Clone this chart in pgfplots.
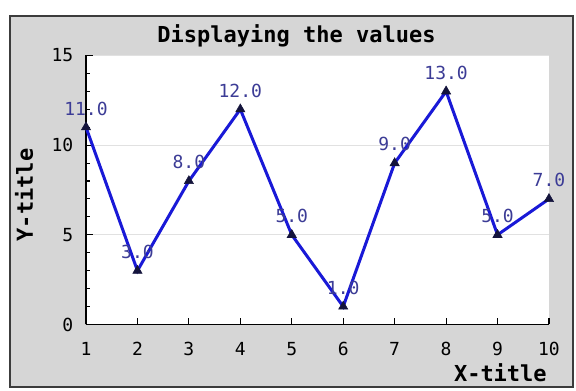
\documentclass[border=0pt]{standalone}
\usepackage{fontspec}
\setmonofont{DejaVu Sans Mono}
\usepackage{pgfplots}
\pgfplotsset{compat=1.18}

\definecolor{framegray}{RGB}{214,214,214}
\definecolor{frameedge}{RGB}{60,60,60}
\definecolor{gridgray}{RGB}{225,225,225}
\definecolor{lineblue}{RGB}{25,25,215}
\definecolor{labelnavy}{RGB}{60,60,150}
\definecolor{marknavy}{RGB}{20,20,60}

\newcommand{\tickfont}{\ttfamily\fontsize{13.5}{14}\selectfont}
\newcommand{\headfont}{\ttfamily\bfseries\fontsize{16.5}{18}\selectfont}
% pixel position of the reference -> picture coordinates (axis SW at origin)
\newcommand*{\px}[2]{({(#1-86)*0.75pt},{(324.5-#2)*0.75pt})}

\begin{document}
\begin{tikzpicture}
\fill[white] \px{0}{0} rectangle \px{576}{391};
\draw[frameedge, line width=1.5pt, fill=framegray] \px{10}{16} rectangle \px{573}{387};

\begin{axis}[
  scale only axis,
  width=347.25pt, height=201.75pt,
  xmin=1, xmax=10, ymin=0, ymax=15,
  axis lines=left,
  axis line style={-, black, line width=1pt},
  axis background/.style={fill=white},
  xtick={1,2,3,4,5,6,7,8,9,10},
  ytick={0,5,10,15},
  minor y tick num=4,
  tick align=inside,
  major tick length=5pt,
  minor tick length=3pt,
  tick style={black, line width=0.8pt},
  ymajorgrids,
  grid style={gridgray, line width=0.8pt},
  /pgf/number format/assume math mode=true,
  yticklabel style={font=\tickfont, xshift=-6pt},
  xticklabel style={font=\tickfont, yshift=-10pt},
  clip=false,
  nodes near coords={\pgfmathprintnumber[fixed,fixed zerofill,precision=1]{\pgfplotspointmeta}},
  every node near coord/.append style={font=\tickfont, text=labelnavy, anchor=center, yshift=14pt},
]
\addplot[lineblue, line width=2.25pt, mark=triangle*, mark size=4pt,
  mark options={fill=marknavy, draw=marknavy, line width=0.4pt}]
  coordinates {
    (1,11)(2,3)(3,8)(4,12)(5,5)(6,1)(7,9)(8,13)(9,5)(10,7)
  };
\end{axis}

\node[font=\headfont, anchor=base] at \px{296.5}{43} {Displaying the values};
\node[font=\headfont, anchor=base east, inner sep=0pt] at \px{547}{382} {X-title};
\node[font=\headfont, anchor=base, rotate=90, inner sep=0pt] at \px{33}{195} {Y-title};
\end{tikzpicture}
\end{document}
